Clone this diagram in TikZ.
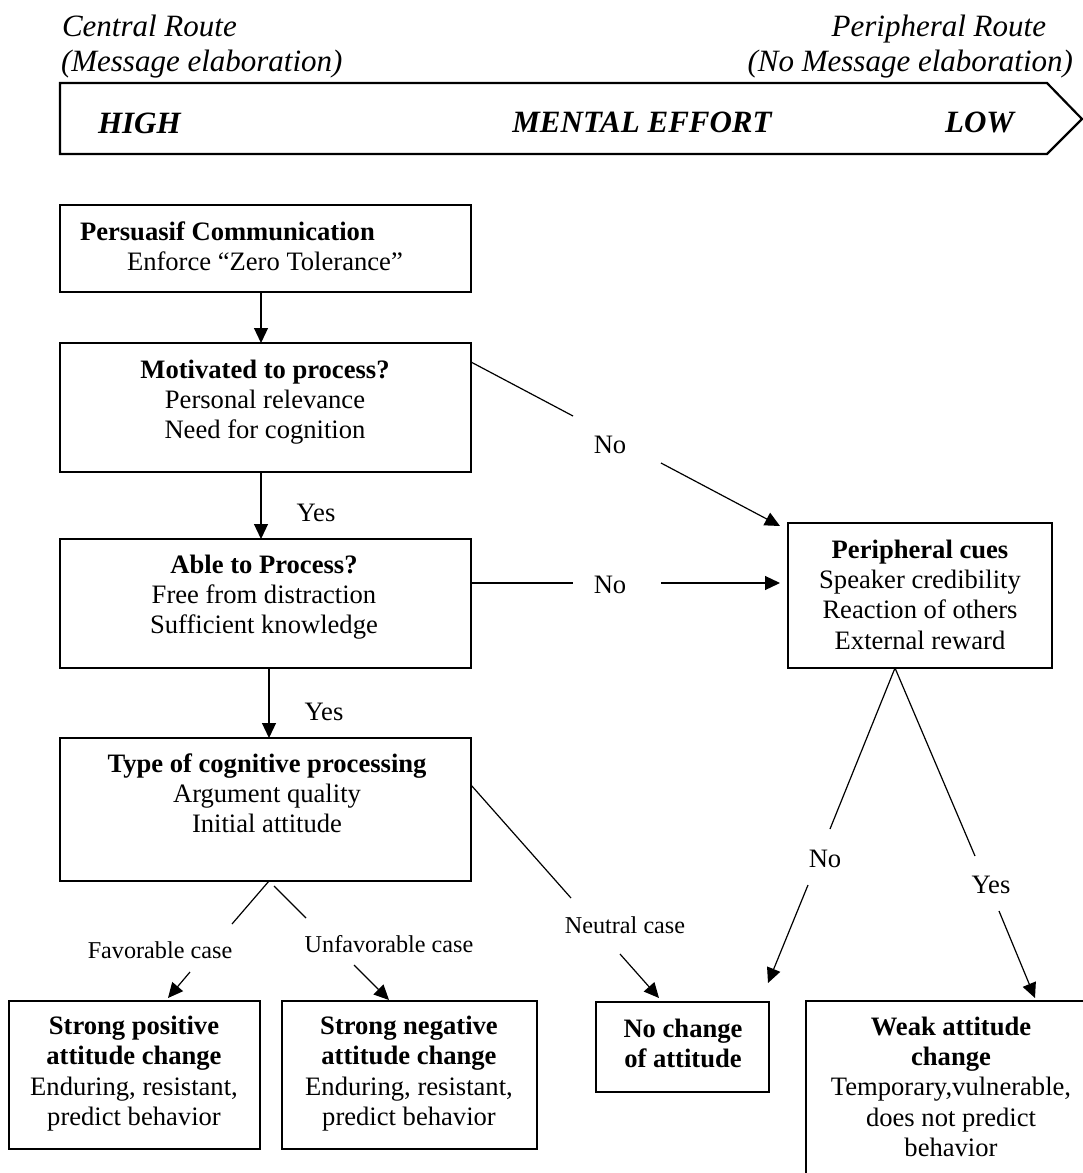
\documentclass[tikz,border=0pt]{standalone}
\usepackage{fontspec}
\setmainfont{Liberation Serif}
\usetikzlibrary{arrows.meta,calc}
\newcommand\bodyf{\fontsize{26.6}{30.4}\selectfont}
\newcommand\smallf{\fontsize{24.2}{28}\selectfont}
\newcommand\topf{\fontsize{31}{35}\selectfont}
\begin{document}
\begin{tikzpicture}[x=1pt,y=-1pt,
  box/.style={draw,line width=1.3pt,inner sep=0pt,outer sep=0pt},
  txt/.style={inner sep=0pt,outer sep=0pt,align=center,font=\bodyf,anchor=base},
  ln/.style={line width=1.2pt},
  arr/.style={line width=1.2pt,-{Triangle[length=15pt,width=14pt]}}]
\useasboundingbox (0,0) rectangle (1083,1173);

% header
\node[txt,font=\topf\itshape,anchor=base west] (cr1) at (62,36) {Central Route};
\node[txt,font=\topf\itshape,anchor=base west] (cr2) at (61,71.5) {(Message elaboration)};
\node[txt,font=\topf\itshape,anchor=base east] (pr1) at (1046,36) {Peripheral Route};
\node[txt,font=\topf\itshape,anchor=base east] (pr2) at (1073,71.5) {(No Message elaboration)};
\draw[line width=2.2pt] (60,83) -- (1047,83) -- (1082,119) -- (1047,154) -- (60,154) -- cycle;
\node[txt,font=\topf\bfseries\itshape,anchor=base west] (high) at (98,133) {HIGH};
\node[txt,font=\topf\bfseries\itshape,anchor=base] (me) at (642,132) {MENTAL EFFORT};
\node[txt,font=\topf\bfseries\itshape,anchor=base east] (low) at (1014,132) {LOW};

% boxes
\node[box,minimum width=411pt,minimum height=87pt] (pc) at (265.5,248.5) {};
\node[box,minimum width=411pt,minimum height=129pt] (mot) at (265.5,407.5) {};
\node[box,minimum width=411pt,minimum height=129pt] (able) at (265.5,603.5) {};
\node[box,minimum width=411pt,minimum height=143pt] (type) at (265.5,809.5) {};
\node[box,minimum width=264pt,minimum height=145pt] (peri) at (920,595.5) {};
\node[box,minimum width=251pt,minimum height=148pt] (spos) at (134.5,1075) {};
\node[box,minimum width=255pt,minimum height=148pt] (sneg) at (409.5,1075) {};
\node[box,minimum width=173pt,minimum height=90pt] (noch) at (682.5,1047) {};
\node[box,minimum width=290pt,minimum height=194pt] (weak) at (951,1098) {};

% box texts (anchor = baseline of last line)
\node[txt,anchor=base west] (pct1) at (80,240.7) {\textbf{Persuasif Communication}};
\node[txt,anchor=base west] (pct2) at (127,270) {Enforce “Zero Tolerance”};
\node[txt] (mott) at (265,438.8) {\textbf{Motivated to process?}\\Personal relevance\\Need for cognition};
\node[txt] (ablet) at (264,633.8) {\textbf{Able to Process?}\\Free from distraction\\Sufficient knowledge};
\node[txt] (typet) at (267,832.8) {\textbf{Type of cognitive processing}\\Argument quality\\Initial attitude};
\node[txt] (perit) at (920,649.2) {\textbf{Peripheral cues}\\Speaker credibility\\Reaction of others\\External reward};
\node[txt] (spost) at (134,1125.5) {\textbf{Strong positive}\\\textbf{attitude change}\\Enduring, resistant,\\predict behavior};
\node[txt] (snegt) at (409,1125.5) {\textbf{Strong negative}\\\textbf{attitude change}\\Enduring, resistant,\\predict behavior};
\node[txt] (nocht) at (683,1067.4) {\textbf{No change}\\\textbf{of attitude}};
\node[txt] (weakt) at (951,1156.6) {\textbf{Weak attitude}\\\textbf{change}\\Temporary,vulnerable,\\does not predict\\behavior};

% labels
\node[txt] (yes1) at (316,521) {Yes};
\node[txt] (yes2) at (324,720) {Yes};
\node[txt] (no1) at (610,453) {No};
\node[txt] (no2) at (610,593) {No};
\node[txt,font=\smallf] (neu) at (625,933) {Neutral case};
\node[txt,font=\smallf] (fav) at (160,958) {Favorable case};
\node[txt,font=\smallf] (unf) at (389,952) {Unfavorable case};
\node[txt] (no3) at (825,867) {No};
\node[txt] (yes3) at (991,893) {Yes};

% free ends
\coordinate (a1) at (573,416); \coordinate (a2) at (661,463); \coordinate (a3) at (780,526);
\coordinate (b1) at (573,583); \coordinate (b2) at (661,583); \coordinate (b3) at (780,583);
\coordinate (c1) at (571,898); \coordinate (c2) at (620,954); \coordinate (c3) at (659,998);
\coordinate (d1) at (232,924); \coordinate (d2) at (190,972); \coordinate (d3) at (168,998);
\coordinate (e0) at (274,886); \coordinate (e1) at (306,918); \coordinate (e2) at (354,965); \coordinate (e3) at (389,1000);
\coordinate (f1) at (830,829); \coordinate (f2) at (808,885); \coordinate (f3) at (768,983);
\coordinate (g1) at (975,856); \coordinate (g2) at (999,911); \coordinate (g3) at (1035,998);

% connectors
\draw[arr] ([xshift=-4.5pt]pc.south) -- ([xshift=-4.5pt]mot.north);
\draw[arr] ([xshift=-4.5pt]mot.south) -- ([xshift=-4.5pt]able.north);
\draw[arr] ([xshift=3.5pt]able.south) -- ([xshift=3.5pt]type.north);
\draw[ln] ([yshift=-19pt]mot.north east) -- (a1);
\draw[arr] (a2) -- (a3);
\draw[ln] ([yshift=20.5pt]able.east) -- (b1);
\draw[arr] (b2) -- (b3);
\draw[ln] ([yshift=24.5pt]type.east) -- (c1);
\draw[arr] (c2) -- (c3);
\draw[ln] ([xshift=3.5pt]type.south) -- (d1);
\draw[arr] (d2) -- (d3);
\draw[ln] (e0) -- (e1);
\draw[arr] (e2) -- (e3);
\draw[ln] ([xshift=-25pt]peri.south) -- (f1);
\draw[arr] (f2) -- (f3);
\draw[ln] ([xshift=-25pt]peri.south) -- (g1);
\draw[arr] (g2) -- (g3);
\end{tikzpicture}
\end{document}
